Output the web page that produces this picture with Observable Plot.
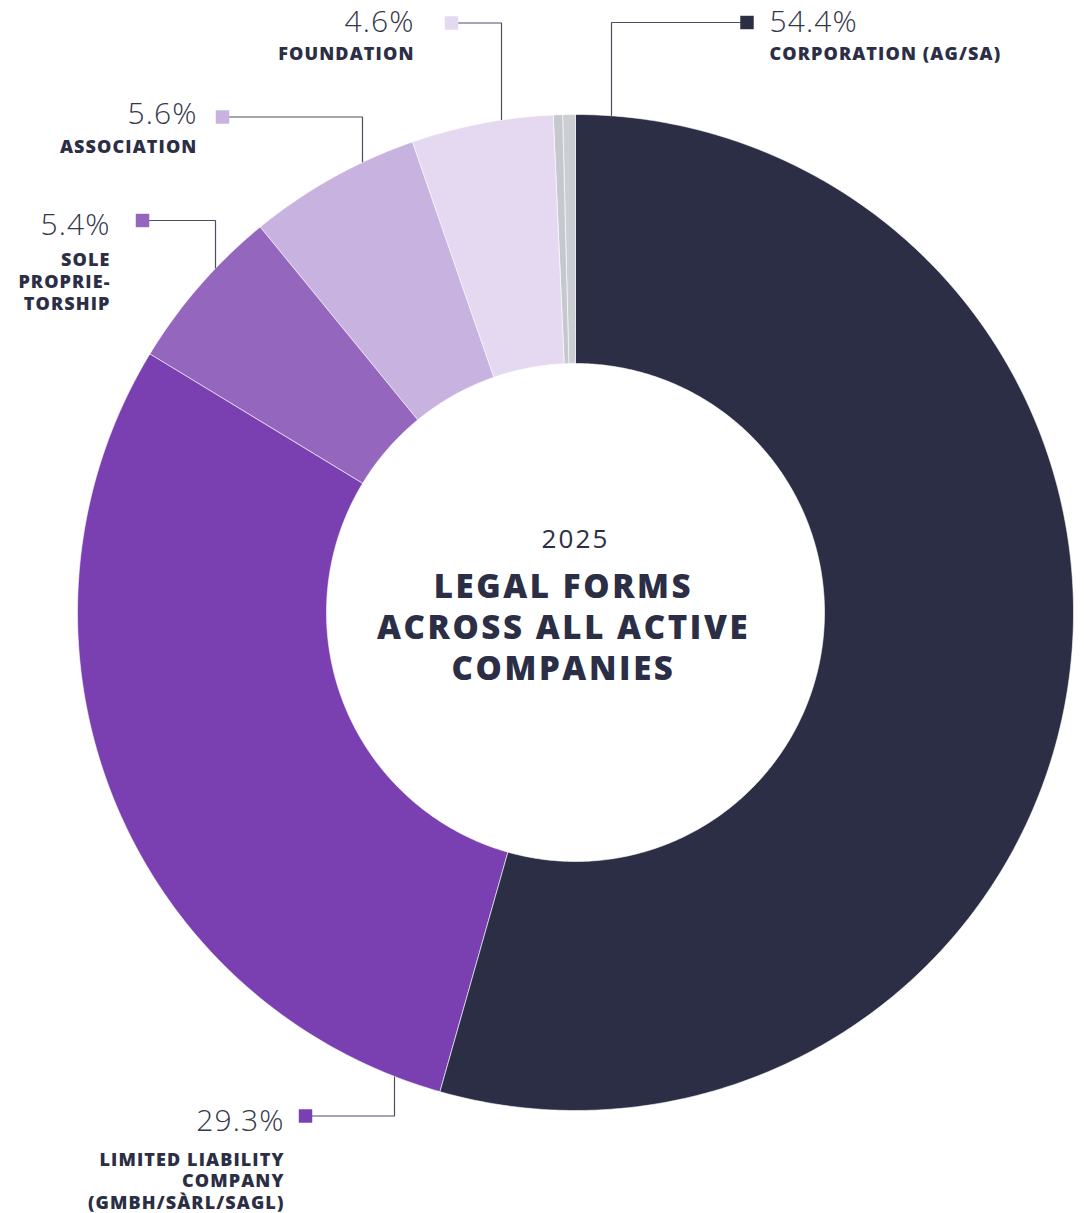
<!DOCTYPE html>
<html><head><meta charset="utf-8">
<script src="https://cdn.jsdelivr.net/npm/d3@7"></script>
<script src="https://cdn.jsdelivr.net/npm/@observablehq/plot@0.6"></script>
<style>html,body{margin:0;padding:0;background:#fff}</style>
</head><body><div id="chart"></div>
<script>
// ---- data ----
const keys = ["corporation", "llc", "sole", "association", "foundation", "other1", "other2"];
const shares = [54.4, 29.3, 5.4, 5.6, 4.6, 0.3, 0.4];
const labels = [
  "CORPORATION (AG/SA)",
  "LIMITED LIABILITY\nCOMPANY\n(GMBH/SÀRL/SAGL)",
  "SOLE\nPROPRIE-\nTORSHIP",
  "ASSOCIATION",
  "FOUNDATION",
  "",
  ""
];
const yearLabel = "2025";
const titleLines = ["LEGAL FORMS", "ACROSS ALL ACTIVE", "COMPANIES"];

// ---- style / layout ----
const colors = ["#2b2e45", "#7a40b1", "#9566be", "#c8b2e0", "#e4d9f0", "#c5c8cc", "#cbced2"];
const W = 1084, H = 1213, CX = 575, CY = 612, R_OUT = 498, R_IN = 249;
const layout = [
  {key: "corporation", side: "right", vx: 611, hy: 22,   sqx: 746.5, tx: 769, ty: 21.5, ly: 53.5},
  {key: "llc",         side: "left",  vx: 394, hy: 1115.5, sqx: 305, tx: 284, ty: 1121, ly: 1159.5, bottom: true},
  {key: "sole",        side: "left",  vx: 215, hy: 220,  sqx: 142,   tx: 110, ty: 224.5, ly: 260},
  {key: "association", side: "left",  vx: 362, hy: 116.5, sqx: 222,  tx: 197, ty: 114, ly: 147},
  {key: "foundation",  side: "left",  vx: 501, hy: 22.5, sqx: 451,   tx: 414, ty: 22, ly: 54}
];
const LINE_H = 21.7;

const data = keys.map((k, i) => ({key: k, share: shares[i], label: labels[i], color: colors[i], pct: shares[i].toFixed(1) + "%"}));
const arcs = d3.pie().sort(null).value(d => d.share).startAngle(0).endAngle(2 * Math.PI)(data);

const pt = (a, r) => ({x: CX + r * Math.sin(a), y: CY - r * Math.cos(a)});
const slicePts = [];
for (const a of arcs) {
  const n = Math.max(2, Math.ceil((a.endAngle - a.startAngle) / (Math.PI / 360)) + 1);
  const outer = d3.range(n).map(i => a.startAngle + (a.endAngle - a.startAngle) * i / (n - 1));
  for (const t of outer) slicePts.push({key: a.data.key, color: a.data.color, ...pt(t, R_OUT)});
  for (const t of outer.slice().reverse()) slicePts.push({key: a.data.key, color: a.data.color, ...pt(t, R_IN)});
}

const byKey = new Map(data.map(d => [d.key, d]));
const ann = layout.map(l => ({...l, ...byKey.get(l.key)}));

const leaderPts = [];
for (const l of ann) {
  const dy = Math.sqrt(R_OUT * R_OUT - (l.vx - CX) ** 2);
  leaderPts.push({key: l.key, x: l.sqx, y: l.hy});
  leaderPts.push({key: l.key, x: l.vx, y: l.hy});
  leaderPts.push({key: l.key, x: l.vx, y: l.bottom ? CY + dy : CY - dy});
}

const labelRows = [];
for (const l of ann) {
  l.label.split("\n").forEach((s, i) => labelRows.push({side: l.side, x: l.tx, y: l.ly + i * LINE_H, text: s}));
}
const titleRows = titleLines.map((s, i) => ({x: CX - 12, y: 587 + i * 41, text: s}));

const numFont = {fontFamily: "Open Sans", fontWeight: 300, fontSize: 30, fill: "#34374b"};
const labFont = {fontFamily: "Open Sans", fontWeight: 800, fontSize: 18, fill: "#2b2e45"};

const chart = Plot.plot({
  width: W, height: H, margin: 0,
  x: {domain: [0, W], range: [0, W], axis: null},
  y: {domain: [0, H], range: [0, H], axis: null},
  style: {background: "white"},
  marks: [
    Plot.line(slicePts, {x: "x", y: "y", z: "key", fill: "color", stroke: "white", strokeWidth: 0.6, curve: "linear-closed"}),
    Plot.line(leaderPts, {x: "x", y: "y", z: "key", stroke: "#4b4e62", strokeWidth: 1.2, strokeLinecap: "butt", strokeLinejoin: "miter"}),
    Plot.dot(ann, {x: "sqx", y: "hy", symbol: "square", r: 7.6, fill: "color", stroke: "none"}),
    Plot.text(ann.filter(d => d.side === "right"), {x: "tx", y: "ty", text: "pct", textAnchor: "start", ...numFont}),
    Plot.text(ann.filter(d => d.side === "left"), {x: "tx", y: "ty", text: "pct", textAnchor: "end", ...numFont}),
    Plot.text(labelRows.filter(d => d.side === "right"), {x: "x", y: "y", text: "text", textAnchor: "start", ...labFont}),
    Plot.text(labelRows.filter(d => d.side === "left"), {x: "x", y: "y", text: "text", textAnchor: "end", ...labFont}),
    Plot.text([{x: CX, y: 539, text: yearLabel}], {x: "x", y: "y", text: "text", fontFamily: "Open Sans", fontWeight: 500, fontSize: 26, fill: "#2b2e45"}),
    Plot.text(titleRows, {x: "x", y: "y", text: "text", fontFamily: "Open Sans", fontWeight: 800, fontSize: 33, fill: "#2b2e45"})
  ]
});
document.getElementById("chart").appendChild(chart);
// letter spacing tweaks for the wide display face
chart.querySelectorAll('g[aria-label="text"]').forEach(g => {
  const fs = g.getAttribute("font-size");
  if (fs === "18") g.setAttribute("letter-spacing", "1.1");
  if (fs === "33") g.setAttribute("letter-spacing", "2.6");
  if (fs === "30") g.setAttribute("letter-spacing", "1.1");
  if (fs === "26") g.setAttribute("letter-spacing", "2.2");
});
</script>
</body></html>
